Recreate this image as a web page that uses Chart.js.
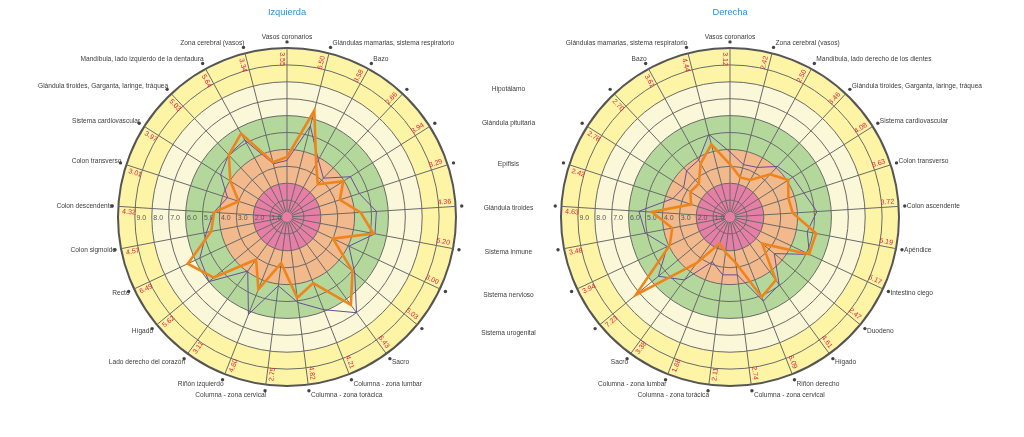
<!DOCTYPE html>
<html>
<head>
<meta charset="utf-8">
<script src="https://cdn.jsdelivr.net/npm/chart.js@4"></script>
<style>
  html, body { margin: 0; padding: 0; background: #fff; }
  #wrap { position: relative; width: 1024px; height: 437px; }
  #wrap canvas { position: absolute; left: 0; top: 0; }
</style>
</head>
<body>
<div id="wrap">
  <canvas id="leftChart" width="1024" height="437"></canvas>
  <canvas id="rightChart" width="1024" height="437"></canvas>
</div>
<script>
const labelsLeft = [
  "Vasos coronarios", "Glándulas mamarias, sistema respiratorio", "Bazo", "Hipotálamo",
  "Glándula pituitaria", "Epífisis", "Glándula tiroides", "Sistema inmune", "Sistema nervioso",
  "Sistema urogenital", "Sacro", "Columna - zona lumbar", "Columna - zona torácica",
  "Columna - zona cervical", "Riñón izquierdo", "Lado derecho del corazón", "Hígado", "Recto",
  "Colon sigmoide", "Colon descendente", "Colon transverso", "Sistema cardiovascular",
  "Glándula tiroides, Garganta, laringe, tráquea", "Mandíbula, lado izquierdo de la dentadura",
  "Zona cerebral (vasos)"
];
const labelsRight = [
  "Vasos coronarios", "Zona cerebral (vasos)", "Mandíbula, lado derecho de los dientes",
  "Glándula tiroides, Garganta, laringe, tráquea", "Sistema cardiovascular", "Colon transverso",
  "Colon ascendente", "Apéndice", "Intestino ciego", "Duodeno", "Hígado", "Riñón derecho",
  "Columna - zona cervical", "Columna - zona torácica", "Columna - zona lumbar", "Sacro",
  "Sistema urogenital", "Sistema nervioso", "Sistema inmune", "Glándula tiroides", "Epífisis",
  "Glándula pituitaria", "Hipotálamo", "Bazo", "Glándulas mamarias, sistema respiratorio"
];
// labels shared by both charts, written once between them
const middleLabels = [
  "Hipotálamo", "Glándula pituitaria", "Epífisis", "Glándula tiroides",
  "Sistema inmune", "Sistema nervioso", "Sistema urogenital"
];

const valuesLeft = [3.55, 6.50, 3.58, 2.66, 3.94, 3.29, 4.36, 5.20, 3.00, 5.03, 6.43, 4.21, 4.82,
  2.75, 4.60, 3.11, 5.62, 6.49, 4.57, 4.32, 3.01, 3.97, 5.03, 5.64, 3.34];
const referenceLeft = [3.35, 5.55, 3.85, 3.15, 4.45, 4.5, 5.3, 5.3, 4.05, 5.2, 7.0, 5.9, 5.1,
  4.1, 6.2, 3.95, 6.0, 5.7, 4.85, 4.35, 3.7, 4.65, 5.05, 5.2, 3.25];

const valuesRight = [3.12, 2.42, 2.50, 3.46, 4.08, 3.63, 3.72, 5.19, 5.17, 2.47, 4.61, 5.09, 2.74,
  2.11, 1.68, 3.38, 7.23, 3.94, 3.48, 4.63, 2.42, 2.78, 2.70, 3.61, 4.44];
const referenceRight = [3.85, 3.2, 3.35, 4.1, 4.4, 4.6, 5.15, 4.65, 5.2, 3.4, 4.95, 5.35, 3.45,
  3.45, 2.85, 4.6, 5.5, 4.1, 5.1, 5.4, 3.55, 3.25, 3.75, 3.85, 5.05];

const tickValues = [1, 2, 3, 4, 5, 6, 7, 8, 9];
const bandLimits = [2, 4, 6, 8, 10];
const bandColors = ["#e67ea6", "#f2b98c", "#b4d89c", "#faf8d8", "#fdf4a6"];

const leftCenterX = 287;
const rightCenterX = 730;
const centerY = 217;
const radius = 169;

const font = (size) => `${size}px "Liberation Sans", Arial, sans-serif`;

const radarDecor = {
  id: "radarDecor",
  beforeDraw(chart) {
    const scale = chart.scales.r;
    const ctx = chart.ctx;
    ctx.save();
    for (let i = bandLimits.length - 1; i >= 0; i--) {
      ctx.beginPath();
      ctx.arc(scale.xCenter, scale.yCenter,
        scale.getDistanceFromCenterForValue(bandLimits[i]), 0, Math.PI * 2);
      ctx.fillStyle = bandColors[i];
      ctx.fill();
    }
    ctx.restore();
  },
  beforeDatasetsDraw(chart) {
    const scale = chart.scales.r;
    const ctx = chart.ctx;
    ctx.save();
    // keep the middle of the spokes clear
    ctx.beginPath();
    ctx.arc(scale.xCenter, scale.yCenter, 5, 0, Math.PI * 2);
    ctx.fillStyle = bandColors[0];
    ctx.fill();

    ctx.font = font(7);
    ctx.fillStyle = "#5a5a5a";
    ctx.textAlign = "left";
    ctx.textBaseline = "middle";
    tickValues.forEach((v) => {
      const x = scale.xCenter - scale.getDistanceFromCenterForValue(v) + 1.5;
      ctx.fillText(v.toFixed(1), x, scale.yCenter + 1);
    });
    ctx.restore();
  },
  afterDraw(chart, args, opts) {
    const scale = chart.scales.r;
    const ctx = chart.ctx;
    const labels = chart.data.labels;
    const values = chart.data.datasets[0].data;
    ctx.save();

    // red value labels along each spoke
    ctx.font = font(7);
    ctx.fillStyle = "#e0223a";
    ctx.textAlign = "center";
    ctx.textBaseline = "middle";
    const valueDist = scale.getDistanceFromCenterForValue(9.35);
    labels.forEach((label, i) => {
      const theta = scale.getIndexAngle(i);
      const a = theta - Math.PI / 2;
      const x = scale.xCenter + Math.cos(a) * valueDist + Math.sin(a) * 5;
      const y = scale.yCenter + Math.sin(a) * valueDist - Math.cos(a) * 5;
      let rot = theta + Math.PI / 2;
      if (rot > Math.PI / 2 + 1e-6 && rot < Math.PI * 1.5) rot -= Math.PI;
      ctx.save();
      ctx.translate(x, y);
      ctx.rotate(rot);
      ctx.fillText(values[i].toFixed(2), 0, 0);
      ctx.restore();
    });

    // category labels with their dots
    ctx.font = font(6.6);
    const dotDist = scale.getDistanceFromCenterForValue(10.36);
    labels.forEach((label, i) => {
      const theta = scale.getIndexAngle(i);
      const p = scale.getPointPosition(i, dotDist);
      ctx.beginPath();
      ctx.arc(p.x, p.y, 1.7, 0, Math.PI * 2);
      ctx.fillStyle = "#444";
      ctx.fill();
      ctx.fillStyle = "#3d3d3d";
      ctx.textBaseline = "middle";
      if (middleLabels.includes(label)) {
        if (opts.middleX) {
          ctx.textAlign = "center";
          ctx.fillText(label, opts.middleX, p.y - 3.5 * Math.cos(theta) + 2);
        }
        return;
      }
      if (i === 0) {
        ctx.textAlign = "center";
        ctx.fillText(label, p.x, p.y - 4.5);
      } else if (theta < Math.PI) {
        ctx.textAlign = "left";
        ctx.fillText(label, p.x + 2, p.y - 4.5 * Math.cos(theta));
      } else {
        ctx.textAlign = "right";
        ctx.fillText(label, p.x + 1, p.y - 4.5 * Math.cos(theta));
      }
    });

    ctx.font = font(9.3);
    ctx.fillStyle = "#2a90d4";
    ctx.textAlign = "center";
    ctx.textBaseline = "middle";
    ctx.fillText(opts.title, scale.xCenter, 12);
    ctx.restore();
  },
};

function makeRadar(canvasId, title, labels, values, reference, centerX, middleX) {
  const padding = {
    left: centerX - radius,
    right: 1024 - (centerX + radius),
    top: centerY - radius,
    bottom: 437 - (centerY + radius),
  };
  return new Chart(document.getElementById(canvasId), {
    type: "radar",
    data: {
      labels: labels,
      datasets: [
        {
          label: title,
          data: values,
          borderColor: "#f0841c",
          borderWidth: 2.6,
          fill: false,
          pointRadius: 0,
        },
        {
          label: "Referencia",
          data: reference,
          borderColor: "#6a4c9c",
          borderWidth: 1,
          fill: false,
          pointRadius: 0,
        },
      ],
    },
    options: {
      responsive: false,
      animation: false,
      devicePixelRatio: 1,
      layout: { padding: padding },
      elements: { line: { tension: 0 } },
      plugins: {
        legend: { display: false },
        tooltip: { enabled: false },
        radarDecor: { title: title, middleX: middleX },
      },
      scales: {
        r: {
          min: 0,
          max: 10,
          ticks: { display: false, stepSize: 1 },
          pointLabels: { display: false },
          grid: {
            circular: true,
            color: (ctx) => (ctx.index === 10 ? "#555" : "#6a6a6a"),
            lineWidth: (ctx) => (ctx.index === 10 ? 2 : 1),
          },
          angleLines: { color: "#6a6a6a", lineWidth: 1 },
        },
      },
    },
    plugins: [radarDecor],
  });
}

makeRadar("leftChart", "Izquierda", labelsLeft, valuesLeft, referenceLeft,
  leftCenterX, (leftCenterX + rightCenterX) / 2);
makeRadar("rightChart", "Derecha", labelsRight, valuesRight, referenceRight,
  rightCenterX, null);
</script>
</body>
</html>
